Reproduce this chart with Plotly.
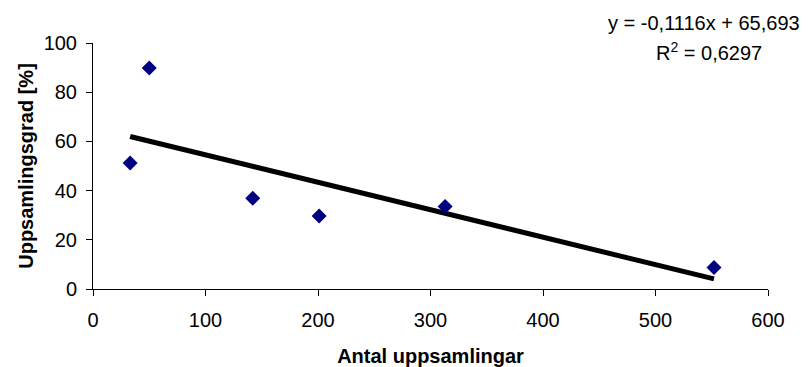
import plotly.graph_objects as go

# Observations: number of collections vs. collection rate
antal = [33, 50, 142, 201, 313, 552]
grad = [51.2, 89.8, 36.9, 29.7, 33.5, 8.7]

# Linear trendline coefficients
slope = -0.1116
intercept = 65.693
r2 = 0.6297

x_ticks = [0, 100, 200, 300, 400, 500, 600]
y_ticks = [0, 20, 40, 60, 80, 100]

trend_x = [min(antal), max(antal)]
trend_y = [slope * v + intercept for v in trend_x]

font = "Liberation Sans, Arial, sans-serif"

fig = go.Figure()
fig.add_trace(go.Scatter(
    x=trend_x, y=trend_y, mode="lines",
    line=dict(color="black", width=5),
    showlegend=False, hoverinfo="skip",
))
fig.add_trace(go.Scatter(
    x=antal, y=grad, mode="markers",
    marker=dict(symbol="diamond", size=11.5, color="#000080",
                line=dict(width=0)),
    showlegend=False,
))

def fmt(v):
    return f"{v}".replace(".", ",")

# Trendline equation and coefficient of determination
fig.add_annotation(
    xref="paper", yref="paper", x=0.905, y=1.0825,
    xanchor="center", yanchor="middle", showarrow=False,
    text=f"y = {fmt(slope)}x + {fmt(intercept)}",
    font=dict(family=font, size=20, color="black"),
)
fig.add_annotation(
    xref="paper", yref="paper", x=0.913, y=0.965,
    xanchor="center", yanchor="middle", showarrow=False,
    text=f"R<sup>2</sup> = {fmt(r2)}",
    font=dict(family=font, size=20, color="black"),
)

fig.update_layout(
    width=809, height=367,
    margin=dict(l=93, r=41, t=43, b=78),
    paper_bgcolor="white", plot_bgcolor="white",
    font=dict(family=font, size=20, color="black"),
    xaxis=dict(
        range=[0, 600], tickvals=x_ticks, showgrid=False, zeroline=False,
        showline=True, linecolor="black", linewidth=1,
        ticks="outside", ticklen=6, tickcolor="black",
        ticklabelstandoff=7, automargin=False,
        title=dict(text="<b>Antal uppsamlingar</b>", font=dict(size=20), standoff=18),
    ),
    yaxis=dict(
        range=[0, 100], tickvals=y_ticks, showgrid=False, zeroline=False,
        showline=True, linecolor="black", linewidth=1,
        ticks="outside", ticklen=6, tickcolor="black",
        ticklabelstandoff=5, automargin=False,
        title=dict(text="<b>Uppsamlingsgrad [%]</b>", font=dict(size=20), standoff=4),
    ),
)

fig.write_html("out.html")
